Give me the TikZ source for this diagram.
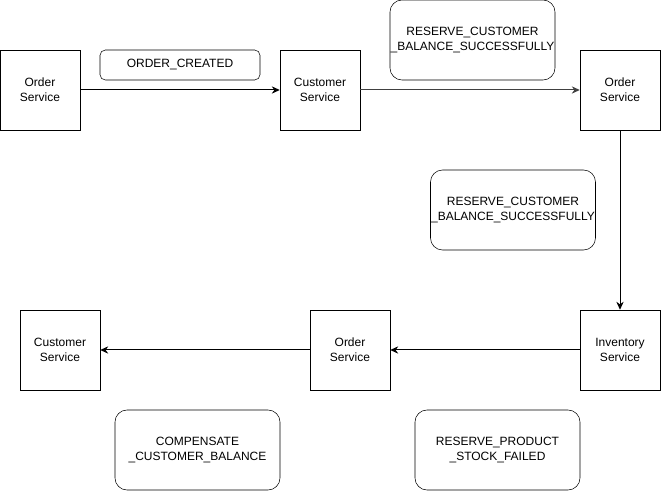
\documentclass[tikz,border=0pt]{standalone}
\usepackage{fontspec}
\setmainfont{Liberation Sans}
\usetikzlibrary{arrows.meta}

\tikzset{
    service/.style={draw, rectangle, minimum width=60pt, minimum height=60pt, align=center, inner sep=0pt, font=\fontsize{9pt}{11pt}\selectfont},
    event/.style={draw, rectangle, rounded corners=9pt, minimum width=123.75pt, minimum height=60pt, align=center, inner sep=0pt, font=\fontsize{9pt}{11pt}\selectfont},
    flow/.style={-{Stealth[length=6pt, width=5.5pt, inset=2pt]}, line width=0.75pt}
}

\begin{document}
\begin{tikzpicture}[x=0.75pt, y=-0.75pt]
    \useasboundingbox (0,0) rectangle (661,491);

    \node[service] (order1) at (40,90) {Order\\Service};
    \node[service] (customer1) at (320,90) {Customer\\Service};
    \node[service] (order2) at (620,90) {Order\\Service};
    \node[service] (inventory) at (620,350) {Inventory\\Service};
    \node[service] (order3) at (350,350) {Order\\Service};
    \node[service] (customer2) at (60,350) {Customer\\Service};

    \node[event, minimum width=120pt, minimum height=22.5pt, rounded corners=4pt] (created) at (180,65) {ORDER\_CREATED};
    \node[event] (reserved1) at (472.5,40) {RESERVE\_CUSTOMER\\\_BALANCE\_SUCCESSFULLY};
    \node[event] (reserved2) at (513,210) {RESERVE\_CUSTOMER\\\_BALANCE\_SUCCESSFULLY};
    \node[event] (compensate) at (197.5,450) {COMPENSATE\\\_CUSTOMER\_BALANCE};
    \node[event] (failed) at (497.5,450) {RESERVE\_PRODUCT\\\_STOCK\_FAILED};

    \draw[flow] (order1) -- (customer1);
    \draw[flow, black!75] (customer1) -- (order2);
    \draw[flow] (order2) -- (inventory);
    \draw[flow] (inventory) -- (order3);
    \draw[flow] (order3) -- (customer2);
\end{tikzpicture}
\end{document}
